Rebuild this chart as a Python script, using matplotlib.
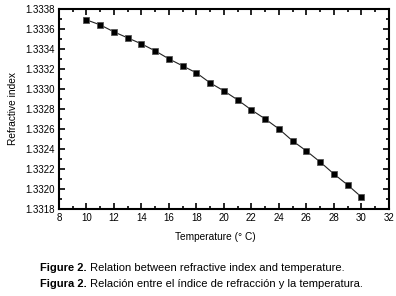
import matplotlib
matplotlib.use("Agg")
import matplotlib.pyplot as plt
from matplotlib.ticker import MultipleLocator, FormatStrFormatter

plt.rcParams['font.family'] = ['Liberation Sans Narrow', 'Liberation Sans', 'DejaVu Sans']

# data
temperature = [10, 11, 12, 13, 14, 15, 16, 17, 18, 19, 20,
               21, 22, 23, 24, 25, 26, 27, 28, 29, 30]
refr_index = [1.33369, 1.33364, 1.33357, 1.33351, 1.33345, 1.33338, 1.33330,
              1.33323, 1.33316, 1.33306, 1.33298, 1.33289, 1.33279, 1.33270,
              1.33260, 1.33248, 1.33238, 1.33227, 1.33215, 1.33204, 1.33192]

fig = plt.figure(figsize=(3.96, 2.96), dpi=100)
ax = fig.add_axes([0.149, 0.294, 0.833, 0.676])

ax.plot(temperature, refr_index, color='#222222', lw=0.8, marker='s',
        markersize=5, markerfacecolor='black', markeredgecolor='#555555',
        markeredgewidth=0.6)

ax.set_xlim(8, 32)
ax.set_ylim(1.3318, 1.3338)
ax.xaxis.set_major_locator(MultipleLocator(2))
ax.xaxis.set_minor_locator(MultipleLocator(1))
ax.yaxis.set_major_locator(MultipleLocator(0.0002))
ax.yaxis.set_minor_locator(MultipleLocator(0.0001))
ax.yaxis.set_major_formatter(FormatStrFormatter('%.4f'))

ax.tick_params(which='both', direction='in', top=True, right=True,
               labelsize=7, width=1.2, pad=3)
ax.tick_params(which='major', length=4)
ax.tick_params(which='minor', length=2)
for s in ax.spines.values():
    s.set_linewidth(1.5)

ax.set_xlabel('Temperature (° C)', fontsize=7.3, labelpad=3)
ax.xaxis.set_label_coords(0.473, -0.115)
ax.set_ylabel('Refractive index', fontsize=7.3, labelpad=5)

# caption below the chart
cap_font = ['Liberation Sans', 'DejaVu Sans']
t1 = fig.text(0.101, 0.086, 'Figure 2.', fontsize=8, fontweight='bold',
              family=cap_font)
ax.annotate(' Relation between refractive index and temperature.', xy=(1, 0),
            xycoords=t1, va='bottom', fontsize=8, family=cap_font)
t2 = fig.text(0.101, 0.032, 'Figura 2.', fontsize=8, fontweight='bold',
              family=cap_font)
ax.annotate(' Relación entre el índice de refracción y la temperatura.', xy=(1, 0),
            xycoords=t2, va='bottom', fontsize=8, family=cap_font)

fig.savefig('out.png', dpi=100)
